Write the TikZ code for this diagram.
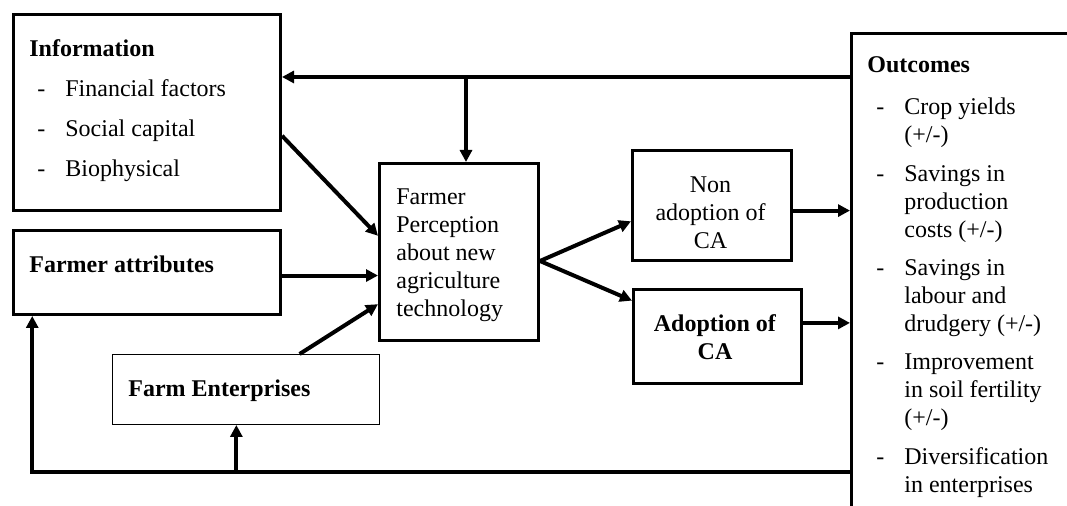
\documentclass[tikz,border=0pt]{standalone}
\usepackage{fontspec}
\setmainfont{Liberation Serif}
\usetikzlibrary{arrows.meta,calc}
\newlength{\du}
\setlength{\du}{0.5pt}
\definecolor{dialinecolor}{rgb}{0.000000, 0.000000, 0.000000}
\newcommand{\dashitem}[1]{\makebox[14pt][l]{-}\begin{tabular}[t]{@{}l@{}}#1\end{tabular}}
\tikzset{
  boxthick/.style={draw=dialinecolor, line width=1.5pt, fill=white, inner sep=0pt, anchor=north west},
  boxthin/.style={boxthick, line width=0.5pt},
  txt/.style={inner sep=0pt, anchor=base west, font=\fontsize{12}{14}\selectfont},
  ctxt/.style={txt, anchor=base},
  conn/.style={draw=dialinecolor, line width=2pt, -{Triangle[length=6pt,width=6pt]}}
}
\begin{document}
\begin{tikzpicture}
\pgftransformxscale{1.000000}
\pgftransformyscale{-1.000000}
\useasboundingbox (0.000000\du,0.000000\du) rectangle (1067.000000\du,506.000000\du);
\fill[white] (0.000000\du,0.000000\du) rectangle (1067.000000\du,506.000000\du);
\clip (0.000000\du,0.000000\du) rectangle (1067.000000\du,506.000000\du);
% boxes
\node[boxthick, minimum width=267\du, minimum height=196\du] (info) at (12.000000\du,13.000000\du){};
\node[boxthick, minimum width=267\du, minimum height=84\du] (attr) at (12.000000\du,229.000000\du){};
\node[boxthin, minimum width=267\du, minimum height=70\du] (enterp) at (112.000000\du,354.000000\du){};
\node[boxthick, minimum width=159\du, minimum height=177\du] (percep) at (378.000000\du,162.000000\du){};
\node[boxthick, minimum width=159\du, minimum height=110\du] (nonad) at (631.000000\du,149.000000\du){};
\node[boxthick, minimum width=168\du, minimum height=94\du] (adopt) at (632.000000\du,288.000000\du){};
\node[boxthick, minimum width=260\du, minimum height=520\du] (outc) at (850.000000\du,32.000000\du){};
% texts
\node[txt] (infotitle) at (29.000000\du,57.000000\du){\textbf{Information}};
\node[txt] (inf1) at (37.000000\du,97.000000\du){\dashitem{Financial factors}};
\node[txt] (inf2) at (37.000000\du,137.000000\du){\dashitem{Social capital}};
\node[txt] (inf3) at (37.000000\du,177.000000\du){\dashitem{Biophysical}};
\node[txt] (attrtxt) at (29.000000\du,273.000000\du){\textbf{Farmer attributes}};
\node[txt] (enterptxt) at (128.000000\du,397.000000\du){\textbf{Farm Enterprises}};
\node[txt] (perceptxt) at (396.000000\du,205.000000\du){\begin{tabular}[t]{@{}l@{}}Farmer\\Perception\\about new\\agriculture\\technology\end{tabular}};
\node[ctxt] (nonadtxt) at (710.500000\du,193.000000\du){\begin{tabular}[t]{@{}c@{}}Non\\adoption of\\CA\end{tabular}};
\node[ctxt] (adopttxt) at (715.000000\du,332.000000\du){\begin{tabular}[t]{@{}c@{}}\textbf{Adoption of}\\\textbf{CA}\end{tabular}};
\node[txt] (outctitle) at (867.000000\du,73.000000\du){\textbf{Outcomes}};
\node[txt] (oc1) at (876.000000\du,115.000000\du){\dashitem{Crop yields\\(+/-)}};
\node[txt] (oc2) at (876.000000\du,182.000000\du){\dashitem{Savings in\\production\\costs (+/-)}};
\node[txt] (oc3) at (876.000000\du,276.000000\du){\dashitem{Savings in\\labour and\\drudgery (+/-)}};
\node[txt] (oc4) at (876.000000\du,370.000000\du){\dashitem{Improvement\\in soil fertility\\(+/-)}};
\node[txt] (oc5) at (876.000000\du,465.000000\du){\dashitem{Diversification\\in enterprises}};
% feedback at the top
\coordinate (topy) at (0.000000\du,77.000000\du);
\coordinate (tjoin) at (466.000000\du,77.000000\du);
\draw[conn] (outc.west |- topy) -- (info.east |- topy);
\draw[conn] (tjoin) -- (tjoin |- percep.north);
% into perception
\draw[conn] ($(info.north east)!0.617!(info.south east)$) -- ($(percep.north west)!0.41!(percep.south west)$);
\coordinate (attrout) at ($(attr.north east)!0.535!(attr.south east)$);
\draw[conn] (attrout) -- (attrout -| percep.west);
\draw[conn] ($(enterp.north west)!0.70!(enterp.north east)$) -- ($(percep.north west)!0.79!(percep.south west)$);
% out of perception
\coordinate (percepout) at ($(percep.north east)!0.55!(percep.south east)$);
\draw[conn] (percepout) -- ($(nonad.north west)!0.64!(nonad.south west)$);
\draw[conn] (percepout) -- ($(adopt.north west)!0.13!(adopt.south west)$);
\coordinate (nonadout) at ($(nonad.north east)!0.545!(nonad.south east)$);
\draw[conn] (nonadout) -- (nonadout -| outc.west);
\coordinate (adoptout) at ($(adopt.north east)!0.36!(adopt.south east)$);
\draw[conn] (adoptout) -- (adoptout -| outc.west);
% feedback at the bottom
\coordinate (loopy) at (0.000000\du,472.000000\du);
\coordinate (attrin) at ($(attr.south west)!0.075!(attr.south east)$);
\coordinate (enterpin) at ($(enterp.south west)!0.464!(enterp.south east)$);
\draw[conn] (outc.west |- loopy) -| (attrin);
\draw[conn] (enterpin |- loopy) -- (enterpin);
\end{tikzpicture}
\end{document}
